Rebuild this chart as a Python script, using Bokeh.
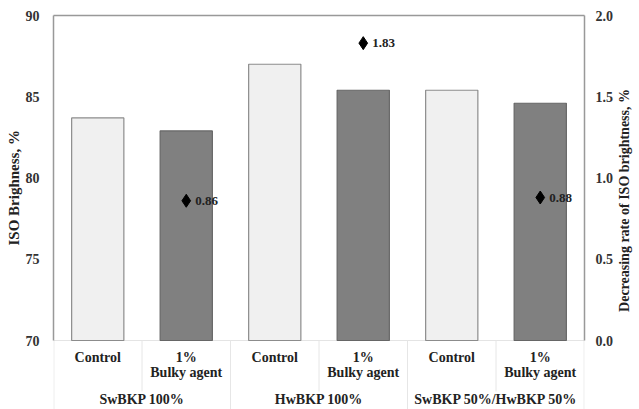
import math
from bokeh.plotting import figure
from bokeh.models import Range1d, LinearAxis, FixedTicker, NumeralTickFormatter, Title
from bokeh.layouts import row
from bokeh.core.properties import value
from bokeh.embed import file_html
from bokeh.resources import INLINE

# ISO brightness of each pulp and the decrease caused by the bulky agent
groups = ["SwBKP 100%", "HwBKP 100%", "SwBKP 50%/HwBKP 50%"]
treatments = ["Control", "1%\nBulky agent"]
brightness = [83.7, 82.9, 87.0, 85.4, 85.4, 84.6]
decrease_rate = [0.86, 1.83, 0.88]
left_ticks = [70, 75, 80, 85, 90]
right_ticks = [0.0, 0.5, 1.0, 1.5, 2.0]

FONT = "Liberation Serif"
TXT = "#222222"

# Geometry: value axis occupies the upper 325 px of the frame, the
# category table the remaining 69 px underneath it.  A narrow strip on
# the right carries the secondary axis title.
W, H = 639, 409
STRIP_W = 22
TOP, AXIS_PX, TABLE_PX = 15, 325, 69
BORDER_L, BORDER_R = 53, 33
Y0, Y1 = 70, 90
R0, R1 = 0.0, 2.0
per_px = (Y1 - Y0) / AXIS_PX
y_bottom = Y0 - TABLE_PX * per_px
r_bottom = R0 - TABLE_PX * (R1 - R0) / AXIS_PX

n = len(brightness)


def table_y(px_below):
    """Data y for a row placed px_below pixels under the value axis."""
    return Y0 - px_below * per_px


bar_x = [i + 0.5 for i in range(n)]
fills = ["#f0f0f0" if i % 2 == 0 else "#808080" for i in range(n)]
lines = ["#8c8c8c" if i % 2 == 0 else "#666666" for i in range(n)]
rate_x = [2 * g + 1.5 for g in range(len(groups))]

p = figure(width=W - STRIP_W, height=H, x_range=Range1d(0, n), y_range=Range1d(y_bottom, Y1),
           output_backend="svg", toolbar_location=None,
           min_border_left=BORDER_L, min_border_right=BORDER_R,
           min_border_top=TOP, min_border_bottom=0,
           x_axis_location=None, y_axis_location=None)
p.outline_line_color = None
p.grid.visible = False
p.extra_y_ranges = {"rate": Range1d(r_bottom, R1)}


def style_axis(ax):
    ax.major_label_text_font = FONT
    ax.major_label_text_font_style = "bold"
    ax.major_label_text_font_size = "14px"
    ax.major_label_text_color = "#333333"
    ax.major_label_standoff = 14
    ax.major_tick_out = 0
    ax.major_tick_in = 0
    ax.minor_tick_out = 0
    ax.minor_tick_in = 0
    ax.major_tick_line_color = None
    ax.minor_tick_line_color = None
    ax.axis_line_color = "#999999"
    ax.axis_line_width = 1.5


left = LinearAxis(ticker=FixedTicker(ticks=left_ticks), bounds=(Y0, Y1))
style_axis(left)
p.add_layout(left, "left")

right = LinearAxis(y_range_name="rate", ticker=FixedTicker(ticks=right_ticks),
                   formatter=NumeralTickFormatter(format="0.0"), bounds=(R0, R1))
style_axis(right)
right.major_label_standoff = 11
p.add_layout(right, "right")

top = LinearAxis(ticker=FixedTicker(ticks=[]))
top.axis_line_color = "#999999"
top.axis_line_width = 1.5
top.major_tick_line_color = None
top.minor_tick_line_color = None
top.major_tick_out = 0
top.major_label_text_font_size = "0px"
p.add_layout(top, "above")

# left axis title, started level with the lower part of the value axis
p.add_layout(Title(text="ISO Brighness, %", align="left", offset=164, standoff=1,
                   text_font=FONT, text_font_style="bold", text_font_size="15px",
                   text_color=TXT), "left")

# faint base line and table rules
p.segment(x0=[0], x1=[n], y0=[Y0], y1=[Y0], line_color="#e4e4e4", line_width=1)
p.segment(x0=[1, 3, 5], x1=[1, 3, 5], y0=[Y0] * 3, y1=[table_y(51)] * 3,
          line_color="#e6e6e6", line_width=1)
p.segment(x0=[0.004, 2, 4, n - 0.004], x1=[0.004, 2, 4, n - 0.004],
          y0=[Y0] * 4, y1=[y_bottom] * 4, line_color="#e6e6e6", line_width=1)

p.vbar(x=bar_x, top=brightness, bottom=Y0, width=0.59,
       fill_color=fills, line_color=lines, line_width=1.2)

p.scatter(x=rate_x, y=decrease_rate, y_range_name="rate", marker="diamond",
          size=13, fill_color="black", line_color="black")
p.text(x=rate_x, y=decrease_rate, y_range_name="rate",
       text=[f"{v:.2f}" for v in decrease_rate], x_offset=9,
       text_baseline="middle", text_align="left",
       text_font=value(FONT), text_font_style="bold", text_font_size="13px",
       text_color=TXT)

# category table: treatment row and group row
sub_first, sub_second = [], []
for g in groups:
    for t in treatments:
        parts = t.split("\n")
        sub_first.append(parts[0])
        sub_second.append(parts[1] if len(parts) > 1 else "")

label_kw = dict(text_align="center", text_baseline="middle", text_font=value(FONT),
                text_font_style="bold", text_font_size="14px", text_color=TXT)
p.text(x=bar_x, y=[table_y(17)] * n, text=sub_first, **label_kw)
p.text(x=bar_x, y=[table_y(32)] * n, text=sub_second, **label_kw)
p.text(x=[2 * g + 1 for g in range(len(groups))], y=[table_y(59)] * len(groups),
       text=groups, **label_kw)

# strip holding the secondary axis title (pixel coordinates, y downwards)
s = figure(width=STRIP_W, height=H, x_range=Range1d(0, STRIP_W), y_range=Range1d(H, 0),
           output_backend="svg", toolbar_location=None,
           min_border=0, x_axis_location=None, y_axis_location=None)
s.outline_line_color = None
s.grid.visible = False
s.text(x=[7], y=[192], text=["Decreasing rate of ISO brightness, %"], angle=math.pi / 2,
       text_align="center", text_baseline="middle", text_font=value(FONT),
       text_font_style="bold", text_font_size="14px", text_color=TXT)

open("out.html", "w").write(file_html(row(p, s, spacing=0), INLINE))
